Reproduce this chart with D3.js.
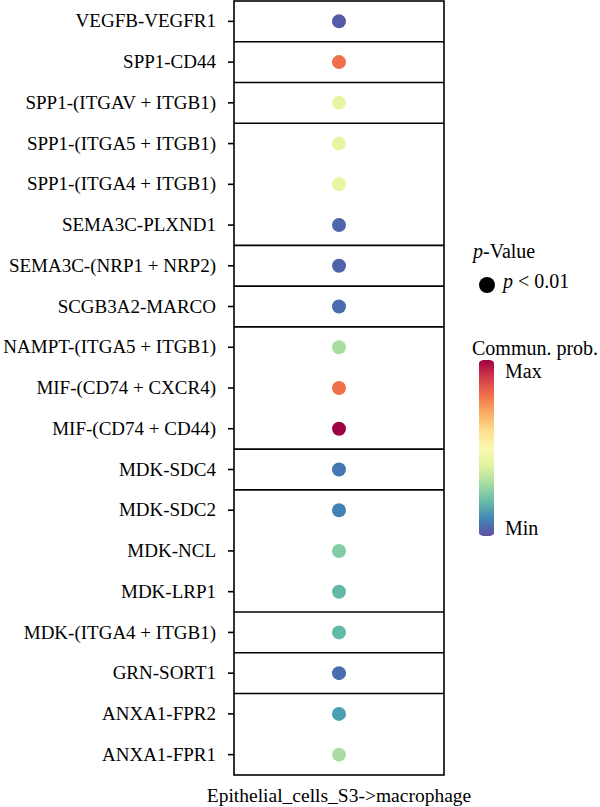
<!DOCTYPE html>
<html>
<head>
<meta charset="utf-8">
<script src="https://cdn.jsdelivr.net/npm/d3@7"></script>
<style>
  body { margin: 0; background: #fff; }
  svg text { font-family: "Liberation Serif", serif; fill: #000; }
</style>
</head>
<body>
<div id="graphic"></div>
<script>
var pairs = ["VEGFB-VEGFR1", "SPP1-CD44", "SPP1-(ITGAV + ITGB1)", "SPP1-(ITGA5 + ITGB1)",
  "SPP1-(ITGA4 + ITGB1)", "SEMA3C-PLXND1", "SEMA3C-(NRP1 + NRP2)", "SCGB3A2-MARCO",
  "NAMPT-(ITGA5 + ITGB1)", "MIF-(CD74 + CXCR4)", "MIF-(CD74 + CD44)", "MDK-SDC4",
  "MDK-SDC2", "MDK-NCL", "MDK-LRP1", "MDK-(ITGA4 + ITGB1)", "GRN-SORT1",
  "ANXA1-FPR2", "ANXA1-FPR1"];
// relative communication probability (0 = min, 1 = max)
var prob = [0.02, 0.8, 0.42, 0.42, 0.42, 0.04, 0.035, 0.05,
  0.3, 0.8, 1.0, 0.07,
  0.09, 0.24, 0.19, 0.19, 0.055,
  0.14, 0.3];
// rows after which a separator line is drawn
var breaksAfter = [0, 1, 2, 5, 6, 7, 10, 11, 14, 15, 16];
var source = "Epithelial_cells_S3->macrophage";

var width = 600, height = 807;
var pLeft = 234, pRight = 444, pTop = 1, pBottom = 775;

var svg = d3.select("#graphic").append("svg")
  .attr("width", width).attr("height", height);

var y = d3.scaleBand().domain(pairs).range([pTop, pBottom]).padding(0);
var x = d3.scalePoint().domain([source]).range([pLeft, pRight]).padding(0.5);
var color = function(v) { return d3.interpolateSpectral(1 - v); };

// separators
svg.selectAll(".sep").data(breaksAfter).enter().append("line")
  .attr("class", "sep")
  .attr("x1", pLeft).attr("x2", pRight)
  .attr("y1", function(d) { return y(pairs[d]) + y.bandwidth(); })
  .attr("y2", function(d) { return y(pairs[d]) + y.bandwidth(); })
  .attr("stroke", "#000").attr("stroke-width", 1.6);

// panel border
svg.append("rect")
  .attr("x", pLeft).attr("y", pTop)
  .attr("width", pRight - pLeft).attr("height", pBottom - pTop)
  .attr("fill", "none").attr("stroke", "#000").attr("stroke-width", 1.6);

// y axis
var yAxis = svg.append("g")
  .attr("transform", "translate(" + pLeft + ",0)")
  .call(d3.axisLeft(y).tickSize(6).tickPadding(12));
yAxis.select(".domain").remove();
yAxis.selectAll("line").attr("stroke", "#000").attr("stroke-width", 1.6);
yAxis.selectAll("text").style("font-size", "19px").style("font-family", "Liberation Serif").attr("fill", "#000");

// dots
svg.selectAll(".dot").data(pairs).enter().append("circle")
  .attr("class", "dot")
  .attr("cx", x(source))
  .attr("cy", function(d) { return y(d) + y.bandwidth() / 2; })
  .attr("r", 7)
  .attr("fill", function(d, i) { return color(prob[i]); });

// x label
svg.append("text")
  .attr("x", x(source)).attr("y", 802)
  .attr("text-anchor", "middle")
  .style("font-size", "19.5px")
  .text(source);

// p-value legend
var leg = svg.append("g");
var pt = leg.append("text").attr("x", 473).attr("y", 258).style("font-size", "20px");
pt.append("tspan").style("font-style", "italic").text("p");
pt.append("tspan").text("-Value");
leg.append("circle").attr("cx", 487).attr("cy", 285).attr("r", 8).attr("fill", "#000");
var pl = leg.append("text").attr("x", 503).attr("y", 288).style("font-size", "20px");
pl.append("tspan").style("font-style", "italic").text("p");
pl.append("tspan").text(" < 0.01");

// colour bar
leg.append("text").attr("x", 472).attr("y", 355).style("font-size", "20px").text("Commun. prob.");
var barTop = 364, barBot = 532;
var defs = svg.append("defs");
var grad = defs.append("linearGradient").attr("id", "cbar")
  .attr("x1", 0).attr("x2", 0).attr("y1", 1).attr("y2", 0);
d3.range(0, 1.0001, 0.1).forEach(function(t) {
  grad.append("stop").attr("offset", t).attr("stop-color", color(t));
});
leg.append("rect")
  .attr("x", 479).attr("y", barTop - 4)
  .attr("width", 15).attr("height", barBot - barTop + 8)
  .attr("rx", 5).attr("ry", 3)
  .attr("fill", "url(#cbar)");
leg.append("text").attr("x", 505).attr("y", 378).style("font-size", "20px").text("Max");
leg.append("text").attr("x", 505).attr("y", 535).style("font-size", "20px").text("Min");
</script>
</body>
</html>
